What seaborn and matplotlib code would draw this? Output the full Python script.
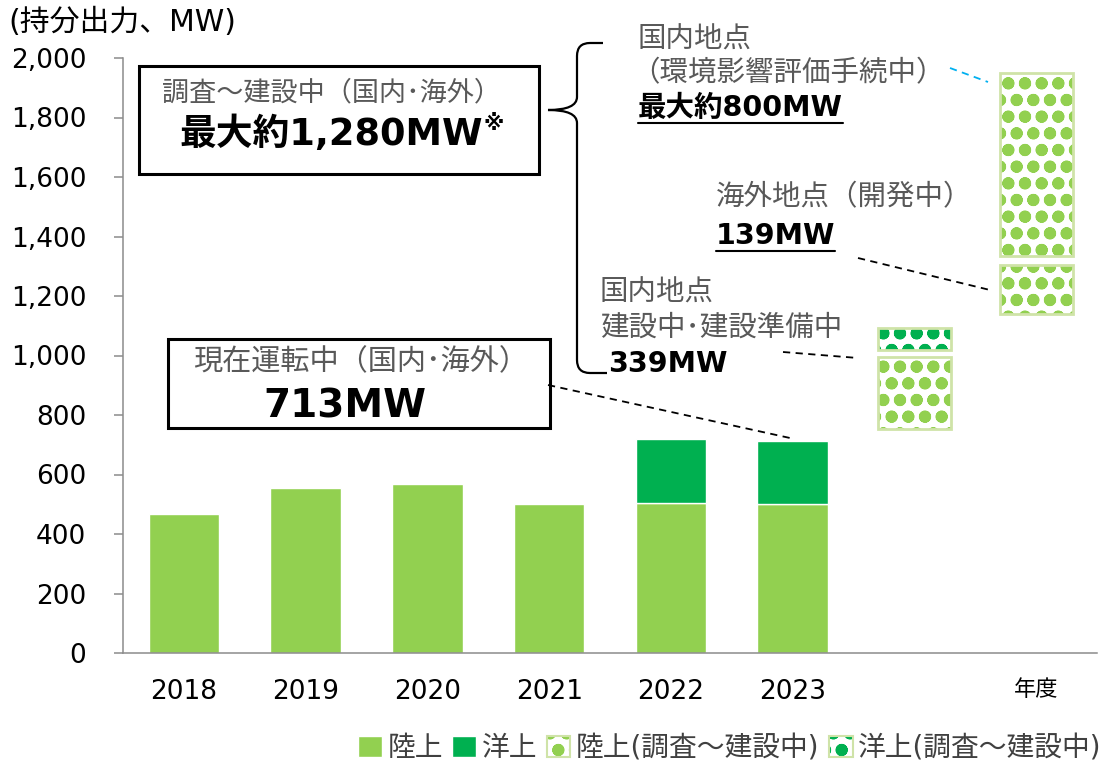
import numpy as np
import pandas as pd
import seaborn as sns
import matplotlib.pyplot as plt
from matplotlib.patches import Rectangle, PathPatch, Patch
from matplotlib.path import Path
from matplotlib.legend_handler import HandlerTuple
from matplotlib.ticker import StrMethodFormatter

W, H = 1107, 763

# --- data (MW, equity share) ---
years = ['2018', '2019', '2020', '2021', '2022', '2023']
onshore = [467, 553, 567, 502, 504, 501]
offshore_years = ['2022', '2023']
offshore = [214, 213]

# pipeline columns to the right of the yearly bars
pipe_cats = ['建設中', '計画中']
seg_cat = ['建設中', '建設中', '計画中', '計画中']
seg_type = ['陸上', '洋上', '陸上', '陸上']
seg_bottom = [753, 1018, 1140, 1335]
seg_height = [242, 74, 165, 615]

categories = years + pipe_cats
tick_labels = years + ['', '年度']
yticks = [0, 200, 400, 600, 800, 1000, 1200, 1400, 1600, 1800, 2000]

LIGHT = '#92D050'
DARK = '#00B050'
BORDER = '#CFE3A8'
AXIS = '#8C8C8C'
GRAY = '#595959'
PATTERN = 'o.'  # ring + dot on the same lattice -> filled dots

sns.set_theme(style='white')
plt.rcParams['font.family'] = ['DejaVu Sans', 'Noto Sans CJK JP']
plt.rcParams['hatch.linewidth'] = 4.0

fig = plt.figure(figsize=(W / 100, H / 100), dpi=100)
ax = fig.add_axes([123 / W, 1 - 653 / H, (1097 - 123) / W, (653 - 58) / H])

df = pd.DataFrame({'year': years, 'onshore': onshore})
sns.barplot(data=df, x='year', y='onshore', order=categories, color=LIGHT,
            saturation=1, width=0.58, errorbar=None, ax=ax)

off_x = [categories.index(y) for y in offshore_years]
off_bottom = [onshore[years.index(y)] for y in offshore_years]
ax.bar(off_x, offshore, bottom=off_bottom, width=0.58, color=DARK)

# patterned (survey ~ construction) segments
seg_x = [categories.index(c) for c in seg_cat]
seg_col = [LIGHT if t == '陸上' else DARK for t in seg_type]
ax.bar(seg_x, seg_height, bottom=seg_bottom, width=0.6, color='white',
       edgecolor=seg_col, hatch=PATTERN, linewidth=0)
ax.bar(seg_x, seg_height, bottom=seg_bottom, width=0.6, fill=False,
       edgecolor=BORDER, linewidth=2)

ax.set_xlim(-0.5, len(categories) - 0.5)
ax.set_ylim(0, 2000)
ax.set_xlabel('')
ax.set_ylabel('')
ax.set_xticks(range(len(categories)))
ax.set_xticklabels(tick_labels)
ax.set_xticks(np.arange(-0.5, len(categories)), minor=True)
ax.tick_params(axis='x', which='major', length=0, pad=19, labelsize=19, labelcolor='black')
ax.tick_params(axis='x', which='minor', length=7, width=1.1, color=AXIS, direction='out')
ax.get_xticklabels()[-1].set_fontsize(16)
ax.set_yticks(yticks)
ax.yaxis.set_major_formatter(StrMethodFormatter('{x:,.0f}'))
ax.tick_params(axis='y', length=6.5, width=1.1, color=AXIS, pad=20, labelsize=19,
               labelcolor='black', left=True)
for side in ['top', 'right']:
    ax.spines[side].set_visible(False)
for side in ['left', 'bottom']:
    ax.spines[side].set_color(AXIS)
    ax.spines[side].set_linewidth(1.1)

# legend
h_on = Patch(facecolor=LIGHT)
h_off = Patch(facecolor=DARK)
h_on_p = (Patch(facecolor='white', edgecolor=LIGHT, hatch=PATTERN, linewidth=0),
          Patch(fill=False, edgecolor=BORDER, linewidth=1.5))
h_off_p = (Patch(facecolor='white', edgecolor=DARK, hatch=PATTERN, linewidth=0),
           Patch(fill=False, edgecolor=BORDER, linewidth=1.5))
fig.legend([h_on, h_off, h_on_p, h_off_p],
           ['陸上', '洋上', '陸上(調査～建設中)', '洋上(調査～建設中)'],
           handler_map={tuple: HandlerTuple(ndivide=1)},
           loc='center', bbox_to_anchor=(730 / W, 1 - 748 / H), ncol=4, frameon=False,
           fontsize=20, labelcolor='#404040', handlelength=0.85, handleheight=0.8,
           handletextpad=0.2, columnspacing=0.35, borderpad=0)

# annotation layer in pixel coordinates
ov = fig.add_axes([0, 0, 1, 1])
ov.set_xlim(0, W)
ov.set_ylim(H, 0)
ov.axis('off')


def txt(x, y, s, size, color=GRAY, weight='normal', ha='left'):
    return ov.text(x, y, s, fontsize=size, color=color, fontweight=weight,
                   ha=ha, va='center')


txt(8, 22, '(持分出力、MW)', 21.5, color='black')

# boxes
ov.add_patch(Rectangle((139, 66), 400, 108, fill=False, lw=2.2, ec='black'))
txt(162, 93, '調査～建設中（国内･海外）', 19.5)
t1280 = txt(331, 134, '最大約1,280MW', 26.5, color='black', weight='bold', ha='center')

ov.add_patch(Rectangle((168, 339), 382, 89, fill=False, lw=2.2, ec='black'))
txt(193, 362, '現在運転中（国内･海外）', 21)
txt(345, 406, '713MW', 28, color='black', weight='bold', ha='center')

# right side notes
txt(638, 40, '国内地点', 20.5)
txt(631, 73, '（環境影響評価手続中）', 20.5)
t800 = txt(638, 108, '最大約800MW', 20.5, color='black', weight='bold')
txt(716, 197, '海外地点（開発中）', 20.5)
t139 = txt(716, 236, '139MW', 20.5, color='black', weight='bold')
txt(600, 293, '国内地点', 20.5)
txt(600, 328, '建設中･建設準備中', 20.5)
txt(608, 364, '339MW', 20.5, color='black', weight='bold')

# brace
verts = [(603, 43), (590, 43), (577, 43), (577, 56), (577, 97), (577, 110), (548, 110),
         (577, 110), (577, 123), (577, 360), (577, 373), (590, 373), (607, 373)]
codes = [Path.MOVETO, Path.LINETO, Path.CURVE3, Path.CURVE3, Path.LINETO, Path.CURVE3,
         Path.CURVE3, Path.CURVE3, Path.CURVE3, Path.LINETO, Path.CURVE3, Path.CURVE3,
         Path.LINETO]
ov.add_patch(PathPatch(Path(verts, codes), fill=False, lw=1.6, ec='black'))

# leader lines
dash = (0, (4, 3))
ov.plot([548, 790], [385, 438], ls=dash, color='black', lw=1.3)
ov.plot([783, 858], [352, 358], ls=dash, color='black', lw=1.3)
ov.plot([858, 990], [258, 290], ls=dash, color='black', lw=1.3)
ov.plot([950, 988], [68, 82], ls=dash, color='#00B0F0', lw=1.3)

# underlines for the two bold figures, note mark after the total
fig.canvas.draw()
for t in [t800, t139]:
    bb = t.get_window_extent()
    y = H - bb.y0 + 1
    ov.plot([bb.x0, bb.x1], [y, y], color='black', lw=1.5)
bb = t1280.get_window_extent()
txt(bb.x1 + 1, H - bb.y1 + 8, '※', 15, color='black', weight='bold')

ov.set_xlim(0, W)
ov.set_ylim(H, 0)

fig.savefig('out.png', dpi=100)
